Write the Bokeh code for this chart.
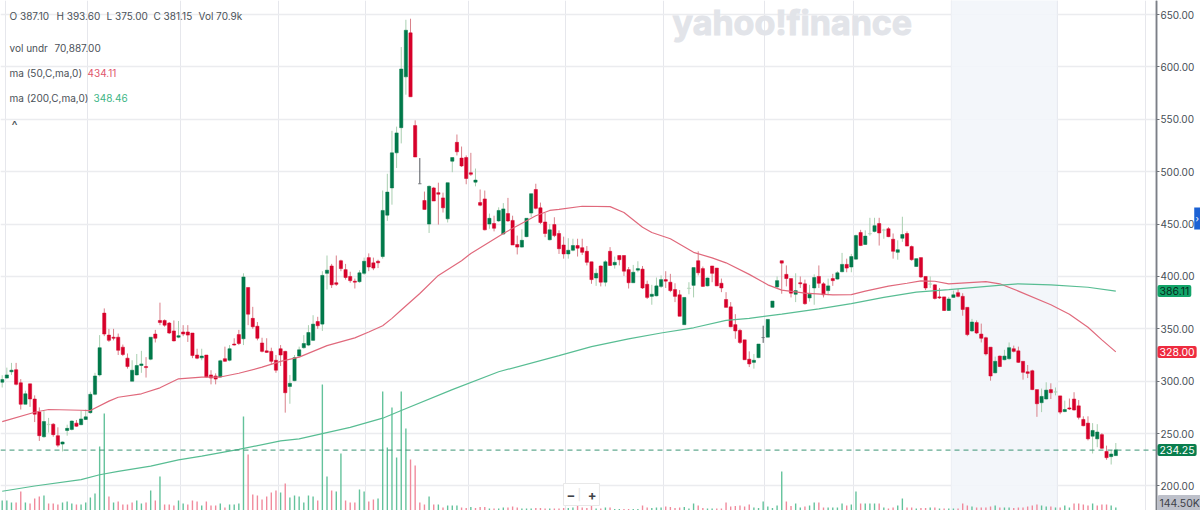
from bokeh.plotting import figure
from bokeh.models import (ColumnDataSource, Range1d, FixedTicker, Label, Span,
                          BoxAnnotation, NumeralTickFormatter)
from bokeh.embed import file_html
from bokeh.resources import INLINE

opens = [299,303,309,311,298.5,278,297.5,283,270.5,247,
 258.5,259,248,240,253,254,260,258.5,263.5,270,
 287.5,306,365,344,342,342,332.5,322,300,306,
 315,314,321,345,358,358,355.5,348,342,347,
 347,346,325,322.3,325,306,305,304,321.5,320,
 335.5,344.5,340.5,389.5,360,352.5,336.5,329,328.5,320,
 331,328.5,295,300.5,324,332,334.5,339,357,354.5,
 403,410,394,415,406.5,400,395.5,395,403,418,
 413,414.5,419,458.5,484.5,518,542,590.5,632.5,544,
 488.5,472.5,450,484.5,480,475,455,510,528,513,
 513.5,499,490,470.5,474,450,450.5,453,440.5,460,
 453.5,430.5,428,438,460.5,483,465.5,452,435,449.5,
 441,430,421.5,425,429.5,427.5,424,414,398.5,410,
 394.5,424,411,420,420,406.5,394,406,407,392.5,
 381,381.5,390.5,397,394.5,387.5,382.5,354,388.5,391.5,
 415,407.5,391,410,408,393.5,378,371,354,348.5,
 339.5,321,318,322.5,341.7,342,370.5,390,415,402,
 398,383,394,393,379.5,389,400,393,386.5,398,
 397.5,404.5,411.5,409,416.5,442,430.5,440.5,443,450.5,
 444,445.5,435.5,423,436.5,441,428.5,409.5,418,400,
 392.5,392,380.5,380.5,367.5,380,384.5,381,370.5,348,
 356,345,341.5,332.5,308,324,320.5,321.5,331,329,
 319,309,310,292,279.5,283,292,289.5,286,271,
 274.5,283,276.5,263.5,260,247.5,245,249,233,228,229]

closes = [301.6,306,310.5,297,278,288,283,268.5,248,261.5,
 259,249,239,242,255,262,257,264,266,287.5,
 305,332,345,339,341,329.5,325.5,314,310.5,315,
 316.5,313,342,341,356,353.5,346,338.5,343.5,345,
 344,324.5,322,324,304,303,302,319.5,319,331,
 334.5,336,399.5,364,352,341,328.5,327.5,319,310.5,
 325,289,298,322.5,330,336,346.5,354.5,353,401,
 406,392,392.5,407.5,399,396,394.5,403.5,414.5,409,
 408,413,463,480.5,518,537,598,635,571.5,514,
 488.5,464,486,472,478.5,465.5,489.5,513.5,519,505.5,
 493.5,497.5,492,468,444.5,455.5,446,463,464.5,453,
 430,428,434.5,455.5,479,465,451.5,441,444.5,439,
 426.5,421.5,425,429.5,427,423,413.5,397,403,394.5,
 414,410.5,413.5,416,405,394,404,407.5,389,380,
 383,391,397,395.5,386.5,381,362,380,389,408.5,
 403.5,390.5,398.5,403,391,389,370.5,352,348,337,
 320.5,316.5,320,335.5,341.7,359,376.5,396,412.7,398,
 384,386.5,393,374,383,399,393.5,382.5,391,396,
 403.5,411.5,408,419,439,429.5,438.5,441,448.5,441.5,
 444.5,438,424,425.5,440,429,416,417,399.5,389,
 393,379,379.5,367.5,378.5,382.5,381,368.5,344.5,356.5,
 346,341,326,305,319,314,324,332,328.5,318,
 308.5,307.5,292,278.5,285.5,291.5,289,290,270.5,273,
 273.5,272.5,265.5,257.5,245,253,251.5,236,227,230.5,234.5]

highs = [305.7,313,317.5,317.5,302,291,297.5,286.5,275,271.5,
 265,260,256,242.5,258.5,262.5,263,272,273,290,
 308,344,369.5,350,350,345.5,335,326.5,320,326,
 329,323,342,349,375,359,356.5,358,357.5,353.5,
 353.5,346,331,331,325,310.5,307.5,320.5,333,334.5,
 341,349,403,389.5,371,356.5,341.5,341,332,325,
 334.5,329,306,325,333,344,353.5,363,361.5,405,
 420,412,420,416,412,404.5,398,406,418,422,
 418,416,482,498,539,543,619,645,646,549,
 513,481,487,485.5,489.5,480,489.5,513.5,535.5,524,
 515.5,518,503,483,482,460,458,466,470,475,
 458,439,445,455.5,479,488.5,470.5,460.5,450,456.5,
 444,438,436.5,436,436,436,429,414,407.5,410.5,
 415.5,428,419,420,420,409,411,414.5,410,396,
 392,399,401,405,402.5,393.5,387,380,394.5,408.5,
 424,409.5,399,410,408,398,385,375.5,364,350,
 339.5,328.5,326,335.5,353,359,376.5,400,415,410.5,
 398,403,400,397,392,402,410.5,394.5,398,402.5,
 405,422.5,417,421.5,440,444.5,444,456,456,456,
 445.5,447,441,434.5,457,443,429.5,417,418,400,
 400,392.5,389,380.5,380.5,386.5,388,384,370.5,359.5,
 358,355,342.5,332.5,323.5,324.5,330,337,334,333,
 319,315.5,311,292,293,299,298,294,286,281.5,
 283.5,289.5,282,266.5,266.5,260,259,250.5,238.5,234,241]

lows = [294,302.5,306,296,273,278,275.5,261,243,246,
 251,247,237,233,248,253,256.5,258,263,269,
 286.5,304.5,343,337.5,339,325,324,312,300,305.5,
 308,303.5,320,337,353.5,352,345,338,341,343,
 337.5,322,321,320,303.5,297,297,303.5,318.5,319,
 334,334.5,334.5,353.5,350,339,327.5,327,316,308,
 314.5,270,278.5,300,323,331,333.5,338.5,350,348,
 387.5,389,391,405,397,394,388.5,394,401.5,405,
 406,408,417,453,468.5,503.5,527,573.5,571.5,514,
 488.5,464,441.5,472,449.5,461,451.5,499.5,515.5,504.5,
 488,496,486,467,444,445.5,443,452,440,452,
 430,421,427.5,437.5,456.5,464,450,437.5,434.5,437.5,
 421.5,417,417,424,419,420.5,410.5,393,391,390.5,
 390.5,410,407.5,410.5,400.5,388.5,394,404,388,378.5,
 373,381,389,389,385,375.5,362,354,383,380,
 401,390,390.5,394.5,391,385,370.5,351.5,340.5,335.5,
 320.5,313.5,312,322,336.6,342,370.5,389,383.5,390.5,
 380,375.5,389,373,376,373,389,380,382,391,
 397,404,404,404,416,429,430,439,442,429.5,
 436,437.5,417,416,433,429,415,409,398.5,387,
 389,378,378.5,367,367,379.5,380,362.5,343,347,
 345,337,324.5,300.5,307.5,313.5,320,320.5,327.5,317.5,
 301.5,303,291.5,266,270.5,282.5,283,286.5,268.5,270.5,
 272.5,272,263.5,257,243.5,231,237,235.5,225,220.5,229]

volumes = [480,480,384,384,912,384,336,576,672,720,
 336,336,288,384,432,336,288,288,384,624,
 816,3072,4656,672,384,432,288,288,384,480,
 336,384,960,480,1632,288,288,240,480,336,
 288,480,432,240,432,240,240,336,144,288,
 288,336,4512,2688,768,720,528,672,864,960,
 864,1296,624,720,672,384,720,672,480,6048,
 1632,960,912,2736,480,384,384,1008,912,432,
 528,576,5712,3024,4944,2544,5712,3936,2448,2160,
 384,288,672,288,288,144,240,240,240,144,
 120,168,120,168,168,96,96,96,144,144,
 192,144,96,96,96,120,120,96,96,96,
 96,120,120,144,240,144,120,240,96,96,
 144,144,72,72,72,72,72,72,240,144,
 120,144,144,192,168,120,144,168,96,336,
 240,120,96,96,96,96,384,192,216,240,
 192,288,144,120,432,192,120,240,1872,432,
 216,336,144,192,240,384,384,144,144,144,
 144,336,240,288,912,336,336,336,336,336,
 144,96,144,240,576,144,144,96,120,120,
 144,144,96,96,96,96,96,336,240,192,
 144,144,144,192,240,144,144,144,120,144,
 144,192,240,288,240,192,192,144,144,240,
 144,336,336,288,240,336,240,288,288,240,144.5]

ma50_idx = [0,7,10,17,19,23,25,30,34,38,43,47,51,56,60,64,70,76,79,82,84,86,90,94,99,101,108,115,118,120,125,131,134,138,140,144,149,153,156,161,165,168,173,179,183,186,191,195,198,201,204,212,215,219,226,230,234,237,240]
ma50_val = [261.5,270.4,273,272.3,272,281,284.7,288,293.7,302.3,304,304,307.6,313.4,319,323,334,341.4,347,353,360,368,383.7,401,415,422,441,458,463,464,467,466.7,461,447,442,436,423,417.7,413,402,392,387,384,382.4,382.7,386,390.7,393.5,395.8,395.4,393,395,393,386,373,364,351.5,339.5,328]
ma200_idx = [0,7,17,21,25,32,38,43,51,60,64,69,75,82,86,97,107,120,127,135,142,149,156,161,168,176,183,190,197,204,216,219,226,234,240]
ma200_val = [195,200,206,210.7,214,219,225,228.5,235,243,245,250,256,264.7,272,292,309,324.5,333,340.5,346,351,358,360,364,369,374,380,385,387.5,392,393,392,389.7,386]

price_ticks = [200,250,300,350,400,450,500,550,600,650]
time_ticks = [0.65,18.4,38.4,59.5,78.4,100.5,121.4,142.5,164.3,183.5,204.5,227.4,246.5]
band_start, band_end = 204.5, 227.4
axis_at = 248.77
last_close, ma200_last, ma50_last = 234.25, 386.11, 328.00

GREEN, RED, GRAY = "#00794a", "#d7002a", "#666a70"
GREEN_W, RED_W, GRAY_W = "#a9cfb0", "#d9808a", "#55595e"
PALE = "#b5d6ba"
GREEN_V, RED_V = "#63c29b", "#f08a9c"

idx = list(range(len(opens)))
def body(o, c):
    if o == c: return GRAY
    if abs(o - c) <= 0.5: return PALE
    return GREEN if c > o else RED
def wick(o, c):
    if o == c: return GRAY_W
    return GREEN_W if c >= o else RED_W
prev_closes = closes[:1] + closes[:-1]
src = ColumnDataSource(dict(
    x=idx, o=opens, c=closes, h=highs, l=lows, v=volumes,
    bc=[body(o, c) for o, c in zip(opens, closes)],
    wc=[wick(o, c) for o, c in zip(opens, closes)],
    vc=[GREEN_V if c >= q else RED_V for c, q in zip(closes, prev_closes)],
))

p = figure(frame_width=1200, frame_height=510,
           x_range=Range1d(-0.366, 258.25), y_range=Range1d(176.6, 663.4),
           y_axis_location="right", output_backend="svg", toolbar_location=None,
           min_border_left=0, min_border_top=0, min_border_bottom=0, min_border_right=0,
           outline_line_color=None, background_fill_color="white", margin=(0, 0, 0, 0))
p.extra_y_ranges = {"vol": Range1d(0, 24480)}

p.xaxis.visible = False
p.xgrid.ticker = FixedTicker(ticks=time_ticks)
p.xgrid.grid_line_color = "#e6e7ec"
p.xgrid.grid_line_width = 1
p.ygrid.ticker = FixedTicker(ticks=price_ticks)
p.ygrid.grid_line_color = "#ebecef"
p.ygrid.grid_line_width = 1.5

p.add_layout(BoxAnnotation(left=axis_at, fill_color="white", fill_alpha=1, line_color=None, level="underlay"))
p.add_layout(BoxAnnotation(left=band_start, right=band_end, fill_color="#f2f5fa", fill_alpha=0.9,
                           line_color="#e3e7ef", line_width=1, level="underlay"))
p.add_layout(Span(location=axis_at, dimension="height", line_color="#7b7f86", line_width=1.5, level="guide"))
p.add_layout(BoxAnnotation(left=256.9, right=258.25, top=465.7, bottom=444.7, fill_color="#1c62d4",
                           fill_alpha=1, line_color=None, level="overlay"))

ax = p.yaxis[0]
ax.fixed_location = axis_at
ax.ticker = FixedTicker(ticks=price_ticks)
ax.formatter = NumeralTickFormatter(format="0.00")
ax.axis_line_color = "#7b7f86"
ax.axis_line_width = 1.5
ax.major_tick_line_color = "#6d7178"
ax.major_tick_out = 3
ax.major_tick_in = 0
ax.minor_tick_line_color = None
ax.major_label_standoff = 1
ax.major_label_text_font = "Inter"
ax.major_label_text_font_size = "10px"
ax.major_label_text_color = "#464e56"

H = 510
def text(txt, x, ypx, color="#4a5158", size="10px", style="normal", level="overlay", **kw):
    p.add_layout(Label(text=txt, x=x, y=H - ypx, x_units="screen", y_units="screen",
                       text_font="Inter", text_font_size=size, text_font_style=style, text_color=color,
                       text_baseline="middle", level=level, **kw))

text("yahoo!finance", 672, 22, color="#e2e4e9", size="34px", style="bold", level="underlay",
     text_outline_color="#e2e4e9")

p.segment("x", "h", "x", "l", source=src, color="wc", line_width=1)
p.vbar("x", width=0.7, top="o", bottom="c", source=src, fill_color="bc", line_color="bc", line_width=0.5)
p.vbar("x", width=0.3, top="v", bottom=0, source=src, fill_color="vc", line_color=None, y_range_name="vol")

p.line(ma50_idx, ma50_val, line_color="#e0697c", line_width=1.2)
p.line(ma200_idx, ma200_val, line_color="#58bd93", line_width=1.2)
p.line([-0.366, axis_at], [last_close, last_close], line_color="#3c9474", line_width=1, line_dash=[5, 4])

text("O 387.10", 9, 15); text("H 393.60", 56, 15); text("L 375.00", 106, 15)
text("C 381.15", 153, 15); text("Vol 70.9k", 198, 15)
text("vol undr", 9, 47); text("70,887.00", 54, 47)
text("ma (50,C,ma,0)", 9, 72); text("434.11", 87, 72, color="#e0566c")
text("ma (200,C,ma,0)", 9, 97); text("348.46", 93, 97, color="#3db585")
text("^", 11, 124, size="13px")

def tag(value, x, fill, color):
    p.add_layout(Label(text=f"{value:.2f}", x=x, y=value, x_units="screen", y_units="data",
                       text_font="Inter", text_font_size="10.5px", text_color=color,
                       text_baseline="middle", background_fill_color=fill, border_radius=2,
                       padding=2, level="overlay"))
tag(ma200_last, 1157, "#12a469", "#07301f")
tag(ma50_last, 1157, "#ee2b3f", "#ffffff")
tag(last_close, 1157, "#097e4e", "#ffffff")
text("144.50K", 1157, 503, color="#3d4148", size="10.5px", background_fill_color="#bdc0ca",
     border_radius=2, padding=2)

text("›", 1195, 218, color="#ffffff", size="9px")
text("−\u00a0\u00a0\u00a0\u00a0+", 563, 494, color="#3f4347", size="13px", style="bold", background_fill_color="#ffffff",
     border_line_color="#e8e8e8", padding=3)
text("|", 577, 494, color="#e2e2e2", size="11px")

open("out.html", "w").write(file_html(p, INLINE))
